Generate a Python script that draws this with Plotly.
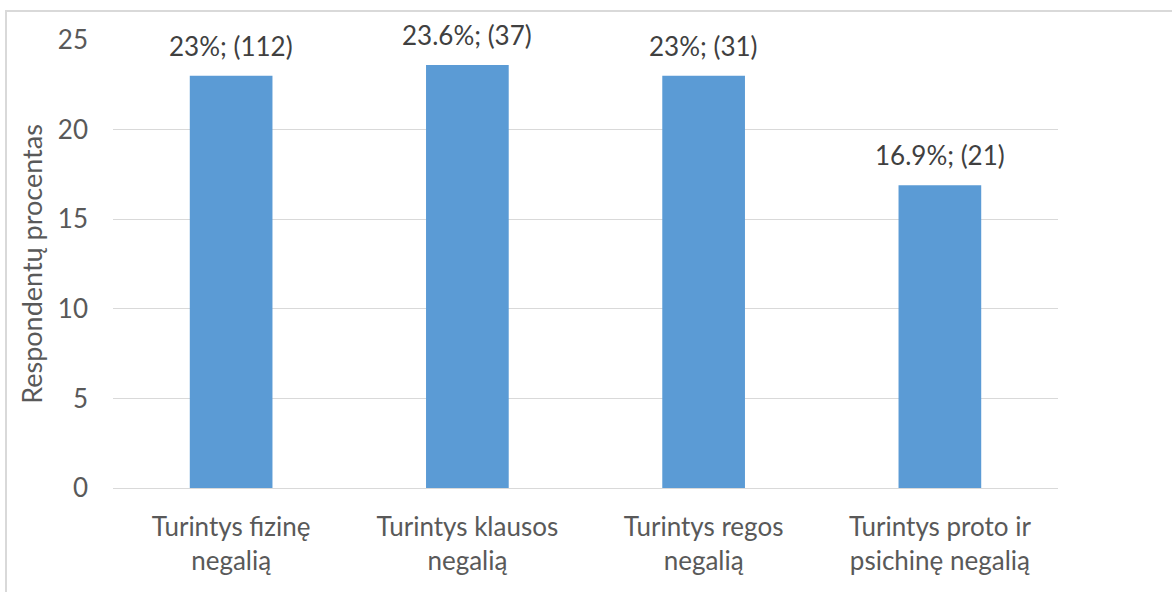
import plotly.graph_objects as go

# Chart data
categories = ["Turintys fizinę<br>negalią", "Turintys klausos<br>negalią",
              "Turintys regos<br>negalią", "Turintys proto ir<br>psichinę negalią"]
percent = [23, 23.6, 23, 16.9]
counts = [112, 37, 31, 21]
y_ticks = [0, 5, 10, 15, 20, 25]

labels = [f"{p}%; ({c})" for p, c in zip(percent, counts)]

text_color = "#595959"
font_family = "Lato, Open Sans, sans-serif"

fig = go.Figure()
fig.add_trace(go.Bar(
    x=categories,
    y=percent,
    marker=dict(color="#5B9BD5", line=dict(width=0)),
    hoverinfo="skip",
))

# Data labels above the bars
for cat, val, lab in zip(categories, percent, labels):
    fig.add_annotation(
        x=cat, y=val, text=lab,
        showarrow=False,
        yanchor="bottom",
        yshift=12,
        font=dict(size=26, color="#404040", family=font_family),
    )

# Layout
W, H = 1172, 592
ml, mr, mt, mb = 113, 114, 40, 104
fig.update_layout(
    width=W, height=H,
    margin=dict(l=ml, r=mr, t=mt, b=mb),
    plot_bgcolor="white",
    paper_bgcolor="white",
    bargap=0.65,
    showlegend=False,
    font=dict(family=font_family, color=text_color, size=26),
)
fig.update_yaxes(
    range=[0, 25],
    tickvals=y_ticks,
    showgrid=True,
    gridcolor="#D9D9D9",
    gridwidth=1,
    zeroline=False,
    showline=False,
    ticklabelstandoff=24,
    tickfont=dict(size=26, color=text_color),
    title=dict(text="Respondentų procentas", font=dict(size=27, color=text_color), standoff=7),
)
fig.update_xaxes(
    showline=True,
    linecolor="#D9D9D9",
    linewidth=1,
    tickfont=dict(size=26, color=text_color),
    ticklabelstandoff=16,
)

# Light gray frame around the chart (bottom edge falls outside the window)
pw, ph = W - ml - mr, H - mt - mb
fig.add_shape(
    type="rect", xref="paper", yref="paper",
    x0=(6 - ml) / pw, x1=(W + 5 - ml) / pw,
    y0=(H - mb - (H + 5)) / ph, y1=(H - mb - 11) / ph,
    line=dict(color="#D9D9D9", width=2),
    fillcolor="rgba(0,0,0,0)",
    layer="below",
)

# Remove the default page margin so the chart sits at the window origin
fig.write_html("out.html", config={"displayModeBar": False},
               post_script="document.body.style.margin='0';")
